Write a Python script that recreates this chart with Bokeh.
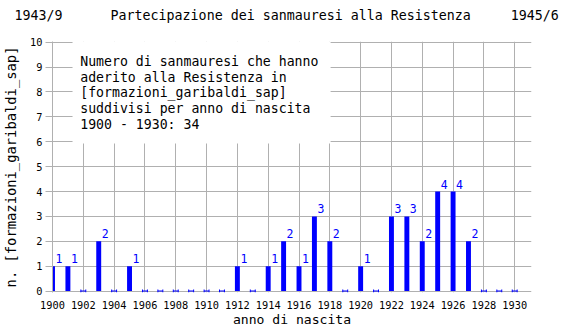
from bokeh.plotting import figure
from bokeh.models import FixedTicker, Title
from bokeh.core.properties import value
from bokeh.embed import file_html
from bokeh.resources import INLINE

years = list(range(1900, 1931))
counts = [1, 1, 0, 2, 0, 1, 0, 0, 0, 0, 0, 0, 1, 0, 1, 2, 1, 3, 2, 0, 1, 0, 3, 3, 2, 4, 4, 2, 0, 0, 0]
x_ticks = list(range(1900, 1931, 2))
y_ticks = list(range(0, 11))
box_lines = [
    "Numero di sanmauresi che hanno",
    "aderito alla Resistenza in",
    "[formazioni_garibaldi_sap]",
    "suddivisi per anno di nascita",
    "1900 - 1930: 34",
]
title_left = "1943/9"
title_center = "Partecipazione dei sanmauresi alla Resistenza"
title_right = "1945/6"

FONT = "DejaVu Sans Mono"
GRID = "#b0b0b0"
BLUE = "#0000ff"
NB = "\u00a0"

p = figure(width=570, height=330, output_backend="svg", toolbar_location=None,
           x_range=(1900, 1931.09), y_range=(-0.06, 10.03),
           min_border_left=50, min_border_right=39, min_border_top=41, min_border_bottom=38)
p.outline_line_color = None
p.background_fill_color = "white"
p.title = None

# spacer (closest to the frame), then the header line above it
p.add_layout(Title(text=NB, text_font=FONT, text_font_size="10px", standoff=3), "above")
p.add_layout(Title(text=title_left + NB * 6 + title_center + NB * 5 + title_right,
                   text_font=FONT, text_font_size="13.3px", text_font_style="normal",
                   text_color="black", align="left", offset=-38, standoff=6), "above")

p.xaxis.ticker = FixedTicker(ticks=x_ticks)
p.yaxis.ticker = FixedTicker(ticks=y_ticks)
p.xgrid.ticker = FixedTicker(ticks=x_ticks)
p.ygrid.ticker = FixedTicker(ticks=y_ticks)
p.grid.grid_line_color = GRID
p.grid.grid_line_width = 1

p.xaxis.axis_line_color = None
p.xaxis.major_tick_line_color = None
p.xaxis.minor_tick_line_color = None
p.xaxis.major_label_standoff = 2
p.xaxis.major_label_text_font = FONT
p.xaxis.major_label_text_font_size = "10.3px"
p.xaxis.major_label_text_color = "black"
p.xaxis.axis_label = "anno di nascita"
p.xaxis.axis_label_text_font = FONT
p.xaxis.axis_label_text_font_size = "13.1px"
p.xaxis.axis_label_text_font_style = "normal"
p.xaxis.axis_label_text_color = "black"
p.xaxis.axis_label_standoff = 0

p.yaxis.axis_line_color = GRID
p.yaxis.major_tick_line_color = GRID
p.yaxis.major_tick_out = 7
p.yaxis.major_tick_in = 0
p.yaxis.minor_tick_line_color = None
p.yaxis.major_label_standoff = 3
p.yaxis.major_label_text_font = FONT
p.yaxis.major_label_text_font_size = "10.3px"
p.yaxis.major_label_text_color = "black"
p.yaxis.axis_label = "n. [formazioni_garibaldi_sap]"
p.yaxis.axis_label_text_font = FONT
p.yaxis.axis_label_text_font_size = "13.8px"
p.yaxis.axis_label_text_font_style = "normal"
p.yaxis.axis_label_text_color = "black"
p.yaxis.axis_label_standoff = 8

# white box behind the description text
p.quad(left=[1901.3], right=[1918.05], bottom=[5.93], top=[10.2],
       fill_color="white", line_color=None)

nz_x = [y for y, c in zip(years, counts) if c > 0]
nz_c = [c for c in counts if c > 0]
z_x = [y for y, c in zip(years, counts) if c == 0]

p.vbar(x=nz_x, top=nz_c, bottom=0, width=0.32, fill_color=BLUE, line_color=None)

# zero markers
hw = 0.16
p.segment(x0=[x - hw for x in z_x], y0=[0] * len(z_x), x1=[x + hw for x in z_x], y1=[0] * len(z_x),
          line_color=BLUE, line_width=1)
p.segment(x0=[x - hw for x in z_x], y0=[-0.06] * len(z_x), x1=[x - hw for x in z_x], y1=[0.06] * len(z_x),
          line_color=BLUE, line_width=1)
p.segment(x0=[x + hw for x in z_x], y0=[-0.06] * len(z_x), x1=[x + hw for x in z_x], y1=[0.06] * len(z_x),
          line_color=BLUE, line_width=1)

p.text(x=nz_x, y=nz_c, text=[str(c) for c in nz_c], x_offset=3, y_offset=-3,
       text_font=value(FONT), text_font_size="11.5px", text_color=BLUE,
       text_align="left", text_baseline="bottom")

# description text
line_h = 15.8 / 24.9
ys = [10 - (60 - 41) / 24.9 - i * line_h for i in range(len(box_lines))]
p.text(x=[1901.8] * len(box_lines), y=ys, text=box_lines,
       text_font=value(FONT), text_font_size="13.2px", text_color="black",
       text_align="left", text_baseline="alphabetic")

open("out.html", "w").write(file_html(p, INLINE))
